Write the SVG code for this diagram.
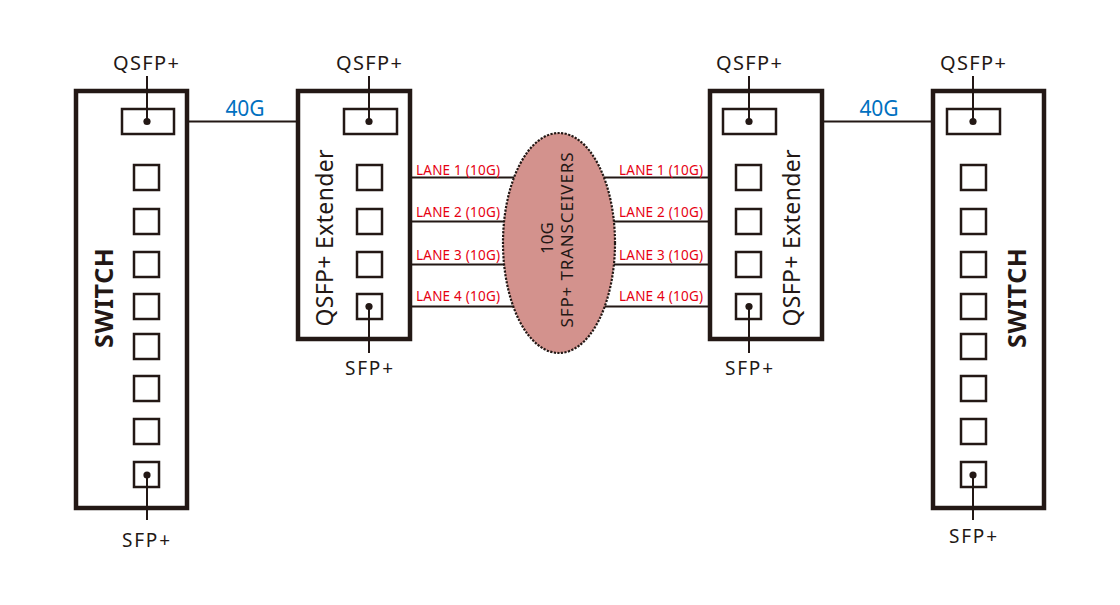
<svg xmlns="http://www.w3.org/2000/svg" width="1120" height="605" viewBox="0 0 1120 605">
<style>
.box{fill:#fff;stroke:#231815;stroke-width:4.5}
.port{fill:#fff;stroke:#231815;stroke-width:2.5}
.ln{stroke:#231815;stroke-width:2;fill:none}
.dot{fill:#231815}
.lbl{font-family:"Noto Sans",sans-serif;font-size:20px;fill:#231815;text-anchor:middle}
.sp{font-family:"Noto Sans",sans-serif;font-size:19px;fill:#231815;text-anchor:middle}
.g40{font-family:"Noto Sans",sans-serif;font-size:21px;fill:#0070c0;text-anchor:middle}
.lane{font-family:"Noto Sans",sans-serif;font-size:13.5px;fill:#e60012}
.ext{font-family:"Noto Sans",sans-serif;font-size:23px;fill:#231815;text-anchor:middle}
.sw{font-family:"Noto Sans",sans-serif;font-size:25px;font-weight:bold;fill:#231815;text-anchor:middle}
.tr{font-family:"Noto Sans",sans-serif;font-size:17px;fill:#231815;text-anchor:middle}
</style>
<rect width="1120" height="605" fill="#fff"/>
<g id="connectors">
<line class="ln" x1="174" y1="121.5" x2="344" y2="121.5"/>
<line class="ln" x1="776" y1="121.5" x2="947" y2="121.5"/>
<line class="ln" x1="382" y1="177.5" x2="736" y2="177.5"/>
<line class="ln" x1="382" y1="221.5" x2="736" y2="221.5"/>
<line class="ln" x1="382" y1="264.5" x2="736" y2="264.5"/>
<line class="ln" x1="382" y1="306.5" x2="736" y2="306.5"/>
<text class="g40" x="245" y="116" textLength="39">40G</text>
<text class="g40" x="879" y="116" textLength="39">40G</text>
<text class="lane" x="416" y="175" textLength="84">LANE 1 (10G)</text>
<text class="lane" x="416" y="217" textLength="84">LANE 2 (10G)</text>
<text class="lane" x="416" y="260" textLength="84">LANE 3 (10G)</text>
<text class="lane" x="416" y="301" textLength="84">LANE 4 (10G)</text>
<text class="lane" x="619" y="175" textLength="84">LANE 1 (10G)</text>
<text class="lane" x="619" y="217" textLength="84">LANE 2 (10G)</text>
<text class="lane" x="619" y="260" textLength="84">LANE 3 (10G)</text>
<text class="lane" x="619" y="301" textLength="84">LANE 4 (10G)</text>
</g>
<g id="switch-left">
<rect class="box" x="76" y="91" width="111" height="417"/>
<text class="sw" transform="translate(113,298) rotate(-90)" textLength="100">SWITCH</text>
<rect class="port" x="122" y="109" width="52" height="25"/>
<rect class="port" x="134" y="165" width="25" height="25"/>
<rect class="port" x="134" y="209" width="25" height="25"/>
<rect class="port" x="134" y="252" width="25" height="25"/>
<rect class="port" x="134" y="294" width="25" height="25"/>
<rect class="port" x="134" y="334" width="25" height="25"/>
<rect class="port" x="134" y="376" width="25" height="25"/>
<rect class="port" x="134" y="419" width="25" height="25"/>
<rect class="port" x="134" y="462" width="25" height="25"/>
<line class="ln" x1="147" y1="76" x2="147" y2="121.5"/>
<circle class="dot" cx="147" cy="121.5" r="3.6"/>
<line class="ln" x1="147" y1="475" x2="147" y2="520"/>
<circle class="dot" cx="147" cy="475" r="3.6"/>
<text class="lbl" x="146" y="70" textLength="66">QSFP+</text>
<text class="sp" x="146" y="547" textLength="48">SFP+</text>
</g>
<g id="extender-left">
<rect class="box" x="298" y="91" width="112" height="248"/>
<text class="ext" transform="translate(333,238) rotate(-90)" textLength="177">QSFP+  Extender</text>
<rect class="port" x="344" y="109" width="53" height="25"/>
<rect class="port" x="357" y="165" width="25" height="25"/>
<rect class="port" x="357" y="209" width="25" height="25"/>
<rect class="port" x="357" y="252" width="25" height="25"/>
<rect class="port" x="357" y="294" width="25" height="25"/>
<line class="ln" x1="369" y1="76" x2="369" y2="121.5"/>
<circle class="dot" cx="369" cy="121.5" r="3.6"/>
<line class="ln" x1="369" y1="306.5" x2="369" y2="353"/>
<circle class="dot" cx="369" cy="306.5" r="3.6"/>
<text class="lbl" x="369" y="70" textLength="66">QSFP+</text>
<text class="sp" x="369" y="375" textLength="48">SFP+</text>
</g>
<g id="transceivers">
<ellipse cx="559" cy="243" rx="56" ry="110" fill="#d3928d" stroke="#231815" stroke-width="2.2" stroke-dasharray="2.2 1.4"/>
<text class="tr" transform="translate(553,238) rotate(-90)">10G</text>
<text class="tr" transform="translate(573,240) rotate(-90)" textLength="175">SFP+ TRANSCEIVERS</text>
</g>
<g id="extender-right">
<rect class="box" x="710" y="91" width="112" height="248"/>
<text class="ext" transform="translate(800,238) rotate(-90)" textLength="177">QSFP+  Extender</text>
<rect class="port" x="723" y="109" width="53" height="25"/>
<rect class="port" x="736" y="165" width="25" height="25"/>
<rect class="port" x="736" y="209" width="25" height="25"/>
<rect class="port" x="736" y="252" width="25" height="25"/>
<rect class="port" x="736" y="294" width="25" height="25"/>
<line class="ln" x1="749" y1="76" x2="749" y2="121.5"/>
<circle class="dot" cx="749" cy="121.5" r="3.6"/>
<line class="ln" x1="749" y1="306.5" x2="749" y2="353"/>
<circle class="dot" cx="749" cy="306.5" r="3.6"/>
<text class="lbl" x="749" y="70" textLength="66">QSFP+</text>
<text class="sp" x="749" y="375" textLength="48">SFP+</text>
</g>
<g id="switch-right">
<rect class="box" x="933" y="91" width="111" height="417"/>
<text class="sw" transform="translate(1026,298) rotate(-90)" textLength="100">SWITCH</text>
<rect class="port" x="947" y="109" width="53" height="25"/>
<rect class="port" x="961" y="165" width="25" height="25"/>
<rect class="port" x="961" y="209" width="25" height="25"/>
<rect class="port" x="961" y="252" width="25" height="25"/>
<rect class="port" x="961" y="294" width="25" height="25"/>
<rect class="port" x="961" y="334" width="25" height="25"/>
<rect class="port" x="961" y="376" width="25" height="25"/>
<rect class="port" x="961" y="419" width="25" height="25"/>
<rect class="port" x="961" y="462" width="25" height="25"/>
<line class="ln" x1="973" y1="76" x2="973" y2="121.5"/>
<circle class="dot" cx="973" cy="121.5" r="3.6"/>
<line class="ln" x1="973" y1="475" x2="973" y2="520"/>
<circle class="dot" cx="973" cy="475" r="3.6"/>
<text class="lbl" x="973" y="70" textLength="66">QSFP+</text>
<text class="sp" x="973" y="543" textLength="48">SFP+</text>
</g>
</svg>
